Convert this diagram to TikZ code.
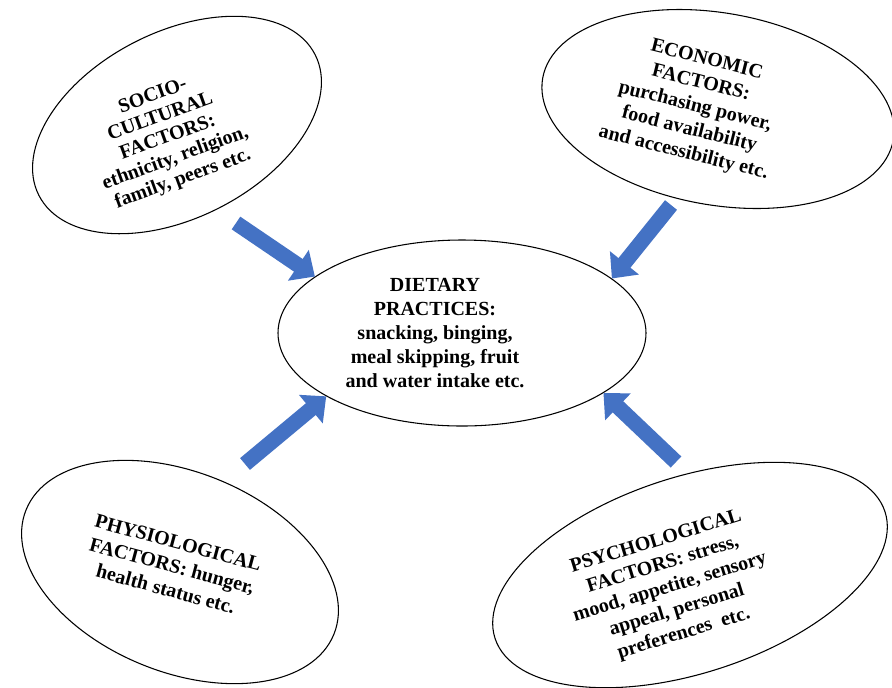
\documentclass[tikz,border=0pt]{standalone}
\usepackage{fontspec}
\setmainfont{Liberation Serif}
\usepackage{tikz}
\usetikzlibrary{arrows.meta,shapes.geometric}
\definecolor{arrowblue}{HTML}{4472C4}
\tikzstyle{factor} = [draw=black,line width=0.8pt,ellipse,inner sep=0]
\tikzstyle{ftext} = [align=center,inner sep=0,font=\bfseries\fontsize{15}{18}\selectfont]
\tikzstyle{push} = [draw=arrowblue,line width=11.5pt,-{Triangle[width=27pt,length=15pt]}]
\tikzset{x=0.75pt, y=-0.75pt}

\begin{document}
\begin{tikzpicture}
\useasboundingbox (0,0) rectangle (892,687);

\node[factor, minimum width=276pt, minimum height=139.5pt] (diet) at (462,333) {};
\node[factor, minimum width=232.5pt, minimum height=139.5pt, rotate=27] (socio) at (177,125) {};
\node[factor, minimum width=267pt, minimum height=144pt, rotate=-10] (econ) at (718,109) {};
\node[factor, minimum width=249pt, minimum height=150pt, rotate=-22] (physio) at (180,572) {};
\node[factor, minimum width=307.5pt, minimum height=147pt, rotate=18] (psycho) at (690,575) {};

\node[ftext] (diettxt) at (435,333) {DIETARY\\PRACTICES:\\snacking, binging,\\meal skipping, fruit\\and water intake etc.};
\node[ftext, rotate=20, font=\bfseries\fontsize{15}{16.5}\selectfont] (sociotxt) at (168,138) {SOCIO-\\CULTURAL\\FACTORS:\\ethnicity, religion,\\family, peers etc.};
\node[ftext, rotate=-14] (econtxt) at (695,107) {ECONOMIC\\FACTORS:\\purchasing power,\\food availability\\and accessibility etc.};
\node[ftext, rotate=-15] (physiotxt) at (172,566) {PHYSIOLOGICAL\\FACTORS: hunger,\\health status etc.};
\node[ftext, rotate=17] (psychotxt) at (670,588) {PSYCHOLOGICAL\\FACTORS: stress,\\mood, appetite, sensory\\appeal, personal\\preferences\ \ etc.};

\coordinate (s1) at (236,223);
\coordinate (s2) at (671,205);
\coordinate (s3) at (245,464);
\coordinate (s4) at (676,462);

\draw[push] (s1) to (diet.159);
\draw[push] (s2) to (diet.20);
\draw[push] (s3) to (diet.205);
\draw[push] (s4) to (diet.337);
\end{tikzpicture}
\end{document}
